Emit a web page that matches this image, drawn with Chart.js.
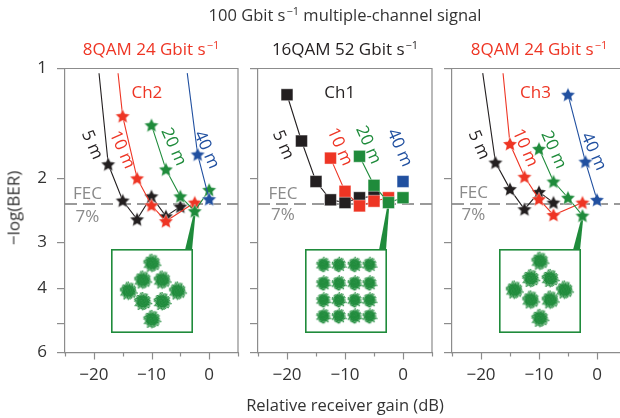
<!DOCTYPE html>
<html>
<head>
<meta charset="utf-8">
<script src="https://cdn.jsdelivr.net/npm/chart.js@4.4.1/dist/chart.umd.min.js"></script>
<style>
html,body{margin:0;padding:0;background:#fff;overflow:hidden;width:620px;height:418px;}
#wrap{position:relative;width:620px;height:418px;overflow:hidden;}
canvas.main{position:absolute;left:0;top:0;}
canvas.inset{position:absolute;}
.t{position:absolute;white-space:nowrap;font-family:"Open Sans",sans-serif;font-size:16.5px;line-height:1;color:#333;transform:translate(-50%,-50%);}
.sub{font-size:17px;}
.s{font-size:11px;position:relative;top:-6px;margin-left:1px;}
</style>
</head>
<body>
<div id="wrap">
<canvas class="main" id="p1" width="640" height="418"></canvas>
<canvas class="main" id="p2" width="640" height="418"></canvas>
<canvas class="main" id="p3" width="640" height="418"></canvas>
<canvas class="inset" id="i1" width="82" height="84" style="left:111px;top:249px"></canvas>
<canvas class="inset" id="i2" width="82" height="84" style="left:305px;top:249px"></canvas>
<canvas class="inset" id="i3" width="82" height="84" style="left:499px;top:249px"></canvas>
<div class="t" style="left:345px;top:15px">100 Gbit s<span class="s">−1</span> multiple-channel signal</div>
<div class="t sub" style="left:151px;top:48px;color:#ee3524">8QAM 24 Gbit s<span class="s">−1</span></div>
<div class="t sub" style="left:345px;top:48px;color:#231f20">16QAM 52 Gbit s<span class="s">−1</span></div>
<div class="t sub" style="left:539px;top:48px;color:#ee3524">8QAM 24 Gbit s<span class="s">−1</span></div>
<div class="t" style="left:13px;top:208px;font-size:17px;transform:translate(-50%,-50%) rotate(-90deg)">−log(BER)</div>
<div class="t" style="left:345px;top:405px">Relative receiver gain (dB)</div>
</div>
<script>
// ---------- data ----------
const xTicks = [-25, -20, -15, -10, -5, 0, 5];
const xTickLabels = ['', '−20', '', '−10', '', '0', ''];
const yTicks = [1, 2, 3, 4, 5, 6];
const yTickLabels = ['1', '2', '3', '4', '', '6'];
const fecLevel = 2.35;

// Ch2 (8QAM 24 Gbit/s) - [gain dB], [-log(BER)]; *_top = where the fit line leaves the top
const ch2_5m_top = [-19.1, 1.03];
const ch2_5m_gain = [-17.5, -15, -12.5, -10, -7.5, -5];
const ch2_5m_ber  = [1.83, 2.30, 2.59, 2.24, 2.54, 2.39];
const ch2_10m_top = [-15.8, 1.03];
const ch2_10m_gain = [-15, -12.5, -10, -7.5, -2.5];
const ch2_10m_ber  = [1.35, 2.00, 2.37, 2.62, 2.33];
const ch2_20m_gain = [-10, -7.5, -5, -2.5, 0];
const ch2_20m_ber  = [1.43, 1.89, 2.24, 2.46, 2.15];
const ch2_40m_top = [-3.8, 1.03];
const ch2_40m_gain = [-2, 0];
const ch2_40m_ber  = [1.72, 2.28];

// Ch1 (16QAM 52 Gbit/s)
const ch1_5m_gain = [-20, -17.5, -15, -12.5, -10, -7.5, -5];
const ch1_5m_ber  = [1.18, 1.58, 2.04, 2.29, 2.33, 2.26, 2.24];
const ch1_10m_gain = [-12.5, -10, -7.5, -5, -2.5];
const ch1_10m_ber  = [1.76, 2.17, 2.38, 2.31, 2.26];
const ch1_20m_gain = [-7.5, -5, -2.5, 0];
const ch1_20m_ber  = [1.74, 2.09, 2.33, 2.26];
const ch1_40m_gain = [0];
const ch1_40m_ber  = [2.04];

// Ch3 (8QAM 24 Gbit/s)
const ch3_5m_top = [-19.7, 1.03];
const ch3_5m_gain = [-17.5, -15, -12.5, -10, -7.5];
const ch3_5m_ber  = [1.81, 2.14, 2.43, 2.18, 2.33];
const ch3_10m_top = [-16.2, 1.03];
const ch3_10m_gain = [-15, -12.5, -10, -7.5, -2.5];
const ch3_10m_ber  = [1.61, 1.98, 2.28, 2.52, 2.33];
const ch3_20m_gain = [-10, -7.5, -5, -2.5];
const ch3_20m_ber  = [1.66, 2.04, 2.26, 2.53];
const ch3_40m_gain = [-5, -2, 0];
const ch3_40m_ber  = [1.18, 1.80, 2.29];

// constellations (I, Q)
const qam8_ch2_i = [0, -0.9, 1.0, -2.3, 2.5, -0.9, 1.0, 0];
const qam8_ch2_q = [2.65, 1.05, 1.05, 0, 0, -1.0, -1.0, -2.7];
const qam16_ch1_i = [-2.2, -0.7, 0.85, 2.3, -2.2, -0.7, 0.85, 2.3, -2.2, -0.7, 0.85, 2.3, -2.2, -0.7, 0.85, 2.3];
const qam16_ch1_q = [2.5, 2.5, 2.5, 2.5, 0.74, 0.74, 0.74, 0.74, -0.87, -0.87, -0.87, -0.87, -2.4, -2.4, -2.4, -2.4];
const qam8_ch3_i = [0, -0.9, 1.0, -2.5, 2.4, -0.9, 1.0, 0];
const qam8_ch3_q = [2.85, 1.2, 1.2, 0.1, 0.1, -0.85, -0.85, -2.6];

const constellationGain = -2.5;

// ---------- styles ----------
Chart.defaults.font.family = '"Open Sans", sans-serif';
Chart.defaults.animation = false;
const COL = {black: '#231f20', red: '#ee3524', green: '#1f8b3b', blue: '#2150a0', grey: '#8a8a8a'};
const AXIS = '#8c8c8c';

function starImg(color) {
  const s = 18, c = document.createElement('canvas');
  c.width = c.height = s;
  const g = c.getContext('2d');
  const R = 7.6, r = 3.7, cx = s / 2, cy = s / 2 + 0.5;
  g.beginPath();
  for (let i = 0; i < 10; i++) {
    const a = -Math.PI / 2 + i * Math.PI / 5;
    const rr = i % 2 ? r : R;
    g.lineTo(cx + rr * Math.cos(a), cy + rr * Math.sin(a));
  }
  g.closePath();
  g.fillStyle = color; g.fill();
  g.strokeStyle = 'rgba(255,255,255,0.7)'; g.lineWidth = 0.6; g.stroke();
  return c;
}

function makeCloud(radius, n, color) {
  const s = Math.ceil(radius * 2 + 6);
  const c = document.createElement('canvas');
  c.width = c.height = s;
  const g = c.getContext('2d');
  const cx = s / 2, cy = s / 2;
  g.fillStyle = color;
  g.globalAlpha = 0.85;
  g.beginPath(); g.arc(cx, cy, radius * 0.7, 0, Math.PI * 2); g.fill();
  g.globalAlpha = 1;
  for (let i = 0; i < n; i++) {
    const t = (i + 0.5) / n;
    const jit = 0.8 + 0.32 * (((i * 7919) % 17) / 17);
    const rr = radius * Math.sqrt(t) * jit;
    const a = i * 2.39996;
    g.fillRect(cx + rr * Math.cos(a) - 0.65, cy + rr * Math.sin(a) - 0.65, 1.3, 1.3);
  }
  return c;
}

function buildPanel(id, L, R, series, marker, labels, showYLabels, inset) {
  const T = 68.5, B = 352.5, W = 640, H = 418;
  const YW = showYLabels ? 40 : 10, XH = 30;
  const datasets = series.map(s => {
    const pts = [];
    const lead = s.top ? 1 : 0;
    if (s.top) pts.push({x: s.top[0], y: s.top[1]});
    s.gain.forEach((g, i) => pts.push({x: g, y: s.ber[i]}));
    const isStar = marker === 'star';
    return {
      data: pts,
      showLine: true,
      borderColor: s.color,
      borderWidth: 1.1,
      backgroundColor: s.color,
      pointBackgroundColor: s.color,
      pointStyle: isStar ? starImg(s.color) : 'rect',
      pointRadius: c => c.dataIndex < lead ? 0 : (isStar ? 7 : 8.4),
      pointBorderColor: 'rgba(255,255,255,0.6)',
      pointBorderWidth: isStar ? 0 : 0.7,
      order: s.order,
      clip: false
    };
  });
  const greenSeries = series.find(s => s.color === COL.green);
  new Chart(document.getElementById(id), {
    type: 'scatter',
    data: {datasets},
    options: {
      responsive: false,
      animation: false,
      events: [],
      layout: {autoPadding: false, padding: {left: L - YW, right: W - R, top: T, bottom: H - B - XH}},
      plugins: {legend: {display: false}, tooltip: {enabled: false}},
      scales: {
        x: {
          type: 'linear', min: -25, max: 5,
          afterBuildTicks: sc => { sc.ticks = xTicks.map(v => ({value: v})); },
          afterFit: sc => { sc.height = XH; },
          grid: {display: false, drawTicks: true, tickLength: 8},
          border: {display: true, color: AXIS, width: 1.2},
          ticks: {callback: (v, i) => xTickLabels[i], font: {size: 17}, color: '#333', padding: 4, maxRotation: 0, autoSkip: false}
        },
        y: {
          type: 'logarithmic', reverse: true, min: 1, max: 6,
          afterBuildTicks: sc => { sc.ticks = yTicks.map(v => ({value: v})); },
          afterFit: sc => { sc.width = YW; },
          grid: {display: true, drawOnChartArea: false, drawTicks: true, tickLength: 8, color: AXIS, lineWidth: 1.2},
          border: {display: true, color: AXIS, width: 1.2},
          ticks: {callback: (v, i) => showYLabels ? yTickLabels[i] : '', font: {size: 17}, color: '#333', padding: 10, autoSkip: false}
        }
      }
    },
    plugins: [{
      id: 'deco',
      beforeDatasetsDraw(chart) {
        const {ctx, chartArea: a, scales: {x, y}} = chart;
        // FEC threshold
        ctx.save();
        ctx.strokeStyle = '#7a7a7a'; ctx.lineWidth = 1.4; ctx.setLineDash([12, 6]);
        const yy = y.getPixelForValue(fecLevel);
        ctx.beginPath(); ctx.moveTo(a.left, yy); ctx.lineTo(a.right, yy); ctx.stroke();
        ctx.restore();
        // pointer wedge from inset to constellation point
        const k = greenSeries.gain.indexOf(constellationGain);
        const tx = x.getPixelForValue(greenSeries.gain[k]);
        const ty = y.getPixelForValue(greenSeries.ber[k]);
        ctx.save();
        ctx.fillStyle = COL.green;
        ctx.beginPath();
        ctx.moveTo(inset.left + inset.w - 8, inset.top + 1);
        ctx.lineTo(inset.left + inset.w - 1, inset.top + 1);
        ctx.lineTo(tx + 1, ty);
        ctx.lineTo(tx - 0.5, ty);
        ctx.closePath(); ctx.fill();
        ctx.restore();
      },
      afterDatasetsDraw(chart) {
        const {ctx, scales: {x, y}} = chart;
        ctx.save();
        ctx.textAlign = 'center'; ctx.textBaseline = 'middle';
        labels.forEach(l => {
          ctx.save();
          ctx.translate(x.getPixelForValue(l.x), y.getPixelForValue(l.y));
          ctx.rotate((l.rot || 0) * Math.PI / 180);
          ctx.fillStyle = l.color;
          ctx.font = '17px "Open Sans", sans-serif';
          ctx.fillText(l.text, 0, 0);
          ctx.restore();
        });
        ctx.restore();
      },
      afterDraw(chart) {
        const {ctx, chartArea: a, scales: {x}} = chart;
        ctx.save();
        ctx.strokeStyle = AXIS; ctx.lineWidth = 1.2;
        ctx.beginPath();
        ctx.moveTo(a.left, a.top); ctx.lineTo(a.right, a.top); ctx.lineTo(a.right, a.bottom);
        ctx.stroke();
        xTicks.forEach(v => {
          const px = Math.round(x.getPixelForValue(v)) + 0.5;
          const len = (v % 10 === 0) ? 7 : 4;
          ctx.beginPath(); ctx.moveTo(px, a.bottom); ctx.lineTo(px, a.bottom + len); ctx.stroke();
        });
        ctx.restore();
      }
    }]
  });
}

function buildInset(id, xs, ys, cloudR, n) {
  const cloud = makeCloud(cloudR, n, COL.green);
  new Chart(document.getElementById(id), {
    type: 'scatter',
    data: {datasets: [{data: xs.map((v, i) => ({x: v, y: ys[i]})), pointStyle: cloud, pointRadius: cloudR, backgroundColor: COL.green, clip: false}]},
    options: {
      responsive: false, animation: false, events: [],
      layout: {autoPadding: false, padding: 0},
      plugins: {legend: {display: false}, tooltip: {enabled: false}},
      scales: {x: {display: false, min: -4, max: 4}, y: {display: false, min: -4, max: 4}}
    },
    plugins: [{
      id: 'box',
      beforeDraw(c) { c.ctx.save(); c.ctx.fillStyle = '#fff'; c.ctx.fillRect(0, 0, c.width, c.height); c.ctx.restore(); },
      afterDraw(c) {
        const g = c.ctx; g.save(); g.strokeStyle = COL.green; g.lineWidth = 1.6;
        g.strokeRect(0.8, 0.8, c.width - 1.6, c.height - 1.6); g.restore();
      }
    }]
  });
}

const rot = 66;
buildPanel('p1', 65, 238, [
  {top: ch2_5m_top, gain: ch2_5m_gain, ber: ch2_5m_ber, color: COL.black, order: 4},
  {top: ch2_10m_top, gain: ch2_10m_gain, ber: ch2_10m_ber, color: COL.red, order: 3},
  {gain: ch2_20m_gain, ber: ch2_20m_ber, color: COL.green, order: 2},
  {top: ch2_40m_top, gain: ch2_40m_gain, ber: ch2_40m_ber, color: COL.blue, order: 1}
], 'star', [
  {text: 'Ch2', x: -10.8, y: 1.17, color: COL.red},
  {text: '5 m', x: -20.3, y: 1.62, color: COL.black, rot},
  {text: '10 m', x: -15.1, y: 1.67, color: COL.red, rot},
  {text: '20 m', x: -6.2, y: 1.64, color: COL.green, rot},
  {text: '40 m', x: -0.45, y: 1.67, color: COL.blue, rot},
  {text: 'FEC', x: -21.1, y: 2.21, color: COL.grey},
  {text: '7%', x: -21.1, y: 2.55, color: COL.grey}
], true, {left: 111, top: 249, w: 82});

buildPanel('p2', 258, 432, [
  {gain: ch1_5m_gain, ber: ch1_5m_ber, color: COL.black, order: 4},
  {gain: ch1_10m_gain, ber: ch1_10m_ber, color: COL.red, order: 3},
  {gain: ch1_20m_gain, ber: ch1_20m_ber, color: COL.green, order: 2},
  {gain: ch1_40m_gain, ber: ch1_40m_ber, color: COL.blue, order: 1}
], 'rect', [
  {text: 'Ch1', x: -10.9, y: 1.17, color: COL.black},
  {text: '5 m', x: -20.7, y: 1.62, color: COL.black, rot},
  {text: '10 m', x: -10.9, y: 1.64, color: COL.red, rot},
  {text: '20 m', x: -6.0, y: 1.62, color: COL.green, rot},
  {text: '40 m', x: -0.6, y: 1.65, color: COL.blue, rot},
  {text: 'FEC', x: -20.7, y: 2.21, color: COL.grey},
  {text: '7%', x: -20.7, y: 2.53, color: COL.grey}
], false, {left: 305, top: 249, w: 82});

buildPanel('p3', 452, 626, [
  {top: ch3_5m_top, gain: ch3_5m_gain, ber: ch3_5m_ber, color: COL.black, order: 4},
  {top: ch3_10m_top, gain: ch3_10m_gain, ber: ch3_10m_ber, color: COL.red, order: 3},
  {gain: ch3_20m_gain, ber: ch3_20m_ber, color: COL.green, order: 2},
  {gain: ch3_40m_gain, ber: ch3_40m_ber, color: COL.blue, order: 1}
], 'star', [
  {text: 'Ch3', x: -10.6, y: 1.17, color: COL.red},
  {text: '5 m', x: -20.4, y: 1.62, color: COL.black, rot},
  {text: '10 m', x: -12.4, y: 1.65, color: COL.red, rot},
  {text: '20 m', x: -7.5, y: 1.67, color: COL.green, rot},
  {text: '40 m', x: -0.6, y: 1.69, color: COL.blue, rot},
  {text: 'FEC', x: -21.3, y: 2.2, color: COL.grey},
  {text: '7%', x: -21.3, y: 2.53, color: COL.grey}
], false, {left: 499, top: 249, w: 82});

buildInset('i1', qam8_ch2_i, qam8_ch2_q, 8.5, 140);
buildInset('i2', qam16_ch1_i, qam16_ch1_q, 7, 100);
buildInset('i3', qam8_ch3_i, qam8_ch3_q, 8.5, 140);
</script>
</body>
</html>
